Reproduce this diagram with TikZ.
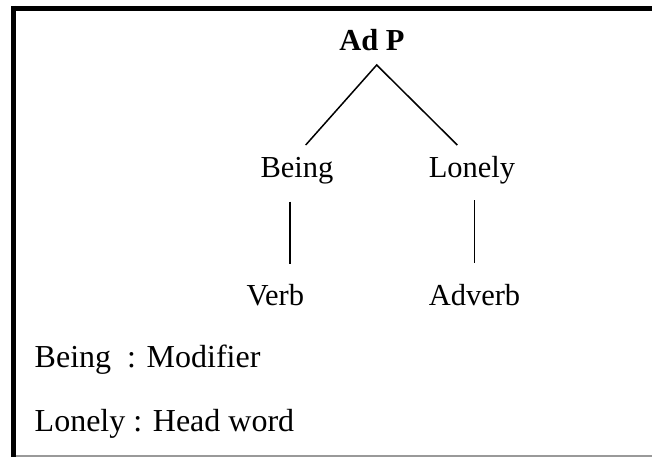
\documentclass[tikz,border=0pt]{standalone}
\usepackage{fontspec}
\setmainfont{Liberation Serif}
\begin{document}
\begin{tikzpicture}[x=1pt,y=-1pt,
  word/.style={inner sep=0pt,anchor=base,font=\fontsize{30.5}{36}\selectfont},
  keyline/.style={inner sep=0pt,anchor=base west,font=\fontsize{32}{38}\selectfont},
  branch/.style={line width=1.5pt,line cap=butt}]
\useasboundingbox (0,0) rectangle (652,457);

% frame: heavy top and left rules, faint bottom rule
\draw[line width=5pt] (11,8.5) -- (652,8.5);
\draw[line width=4.5pt] (13.3,6) -- (13.3,457);
\draw[line width=1.5pt,black!40] (15.5,456.2) -- (652,456.2);

% tree labels
\node[word,font=\fontsize{30.5}{36}\selectfont\bfseries] (adp) at (372,50.7) {Ad P};
\node[word] (being)  at (297,177) {Being};
\node[word] (lonely) at (472,177) {Lonely};
\node[word] (verb)   at (275.3,305) {Verb};
\node[word] (adverb) at (474.5,305) {Adverb};

% branch end points
\coordinate (apex) at (376.7,65);
\coordinate (bL) at (305.7,145);
\coordinate (bR) at (457.3,145);
\coordinate (vLt) at (290,201.5);
\coordinate (vLb) at (290,264);
\coordinate (vRt) at (474.3,200);
\coordinate (vRb) at (474.3,262.7);

\draw[branch] (bL) -- (apex) -- (bR);
\draw[branch] (vLt) -- (vLb);
\draw[branch] (vRt) -- (vRb);

% key
\node[keyline] (key1) at (34.5,367.3) {Being\ \ : Modifier};
\node[keyline] (key2) at (34.5,431) {Lonely : Head word};
\end{tikzpicture}
\end{document}
